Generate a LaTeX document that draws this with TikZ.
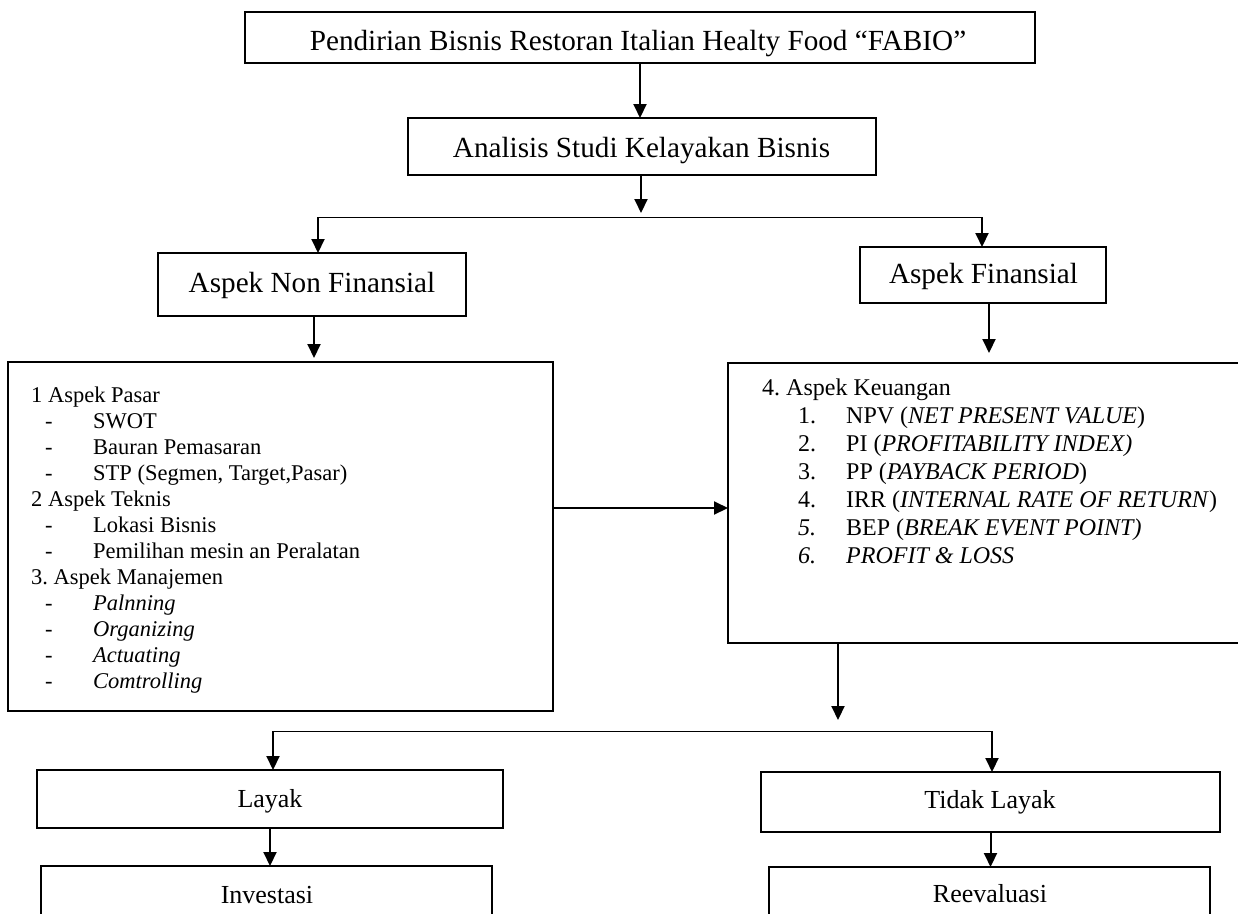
\documentclass[tikz,border=0pt]{standalone}
\usepackage{fontspec}
\setmainfont{Liberation Serif}
\usetikzlibrary{arrows.meta}
\frenchspacing
\begin{document}
\begin{tikzpicture}[x=1pt,y=-1pt,
 box/.style={draw, line width=2pt, rectangle, inner sep=0pt, outer sep=0pt, anchor=north west},
 arr/.style={line width=2pt, -{Triangle[length=14pt,width=13pt]}},
 link/.style={line width=1pt},
 big/.style={font=\fontsize{29.2}{35}\selectfont, anchor=base, inner sep=0pt},
 small/.style={font=\fontsize{26}{31}\selectfont, anchor=base, inner sep=0pt},
 ltxt/.style={font=\fontsize{22.5}{26}\selectfont, anchor=base west, inner sep=0pt},
 rtxt/.style={font=\fontsize{24}{28}\selectfont, anchor=base west, inner sep=0pt},
]
\useasboundingbox (0,0) rectangle (1238,913);

% boxes
\node[box, minimum width=790pt, minimum height=51pt] (top) at (245,12) {};
\node[box, minimum width=468pt, minimum height=57pt] (second) at (408,118) {};
\node[box, minimum width=308pt, minimum height=63pt] (anf) at (158,253) {};
\node[box, minimum width=246pt, minimum height=56pt] (af) at (860,247) {};
\node[box, minimum width=545pt, minimum height=349pt] (lbox) at (8,362) {};
\node[box, minimum width=522pt, minimum height=280pt] (rbox) at (728,363) {};
\node[box, minimum width=466pt, minimum height=58pt] (layak) at (37,770) {};
\node[box, minimum width=459pt, minimum height=60pt] (tl) at (761,772) {};
\node[box, minimum width=451pt, minimum height=58pt] (inv) at (41,866) {};
\node[box, minimum width=441pt, minimum height=58pt] (re) at (769,867) {};

% texts
\node[big] (ttop) at (638,50) {Pendirian Bisnis Restoran Italian Healty Food “FABIO”};
\node[big] (tsecond) at (641.5,157) {Analisis Studi Kelayakan Bisnis};
\node[big] (tanf) at (312,292) {Aspek Non Finansial};
\node[big] (taf) at (983.5,283) {Aspek Finansial};
\node[small] (tlayak) at (270,807) {Layak};
\node[small] (ttl) at (990,808) {Tidak Layak};
\node[small] (tinv) at (267,903) {Investasi};
\node[small] (tre) at (990,902) {Reevaluasi};

% left box contents
\node[ltxt] (l0) at (31,402) {1 Aspek Pasar};
\node[ltxt] (l1) at (45,428) {\makebox[48pt][l]{-}SWOT};
\node[ltxt] (l2) at (45,454) {\makebox[48pt][l]{-}Bauran Pemasaran};
\node[ltxt] (l3) at (45,480) {\makebox[48pt][l]{-}STP (Segmen, Target,Pasar)};
\node[ltxt] (l4) at (31,506) {2 Aspek Teknis};
\node[ltxt] (l5) at (45,532) {\makebox[48pt][l]{-}Lokasi Bisnis};
\node[ltxt] (l6) at (45,558) {\makebox[48pt][l]{-}Pemilihan mesin an Peralatan};
\node[ltxt] (l7) at (31,584) {3. Aspek Manajemen};
\node[ltxt] (l8) at (45,610) {\makebox[48pt][l]{-}\textit{Palnning}};
\node[ltxt] (l9) at (45,636) {\makebox[48pt][l]{-}\textit{Organizing}};
\node[ltxt] (l10) at (45,662) {\makebox[48pt][l]{-}\textit{Actuating}};
\node[ltxt] (l11) at (45,688) {\makebox[48pt][l]{-}\textit{Comtrolling}};

% right box contents
\node[rtxt] (r0) at (762,395) {4. Aspek Keuangan};
\node[rtxt] (r1) at (798,423) {\makebox[48pt][l]{1.}NPV (\textit{NET PRESENT VALUE})};
\node[rtxt] (r2) at (798,451) {\makebox[48pt][l]{2.}PI (\textit{PROFITABILITY INDEX)}};
\node[rtxt] (r3) at (798,479) {\makebox[48pt][l]{3.}PP (\textit{PAYBACK PERIOD})};
\node[rtxt] (r4) at (798,507) {\makebox[48pt][l]{4.}IRR (\textit{INTERNAL RATE OF RETURN})};
\node[rtxt] (r5) at (798,535) {\makebox[48pt][l]{\textit{5.}}BEP (\textit{BREAK EVENT POINT)}};
\node[rtxt] (r6) at (798,563) {\makebox[48pt][l]{\textit{6.}}\textit{PROFIT \& LOSS}};

% connectors
\draw[arr] (top.south) -- (top.south |- second.north);
\coordinate (s1) at (641,213);
\draw[arr] (second.south -| s1) -- (s1);
\coordinate (bl) at (318,217);
\coordinate (br) at (982,217);
\draw[link] (bl) -- (br);
\draw[arr] (bl) -- (bl |- anf.north);
\draw[arr] (br) -- (br |- af.north);
\coordinate (a1) at (314,358);
\draw[arr] (anf.south -| a1) -- (a1);
\coordinate (a2) at (989,353);
\draw[arr] (af.south -| a2) -- (a2);
\draw[arr] ([yshift=-5pt]rbox.west -| lbox.east) -- ([yshift=-5pt]rbox.west);
\coordinate (d1) at (838,720);
\draw[arr] (rbox.south -| d1) -- (d1);
\coordinate (ll) at (273,731);
\coordinate (lr) at (992,731);
\draw[link] (ll) -- (lr);
\draw[arr] (ll) -- (ll |- layak.north);
\draw[arr] (lr) -- (lr |- tl.north);
\draw[arr] (layak.south) -- (layak.south |- inv.north);
\draw[arr] (tl.south) -- (tl.south |- re.north);
\end{tikzpicture}
\end{document}
